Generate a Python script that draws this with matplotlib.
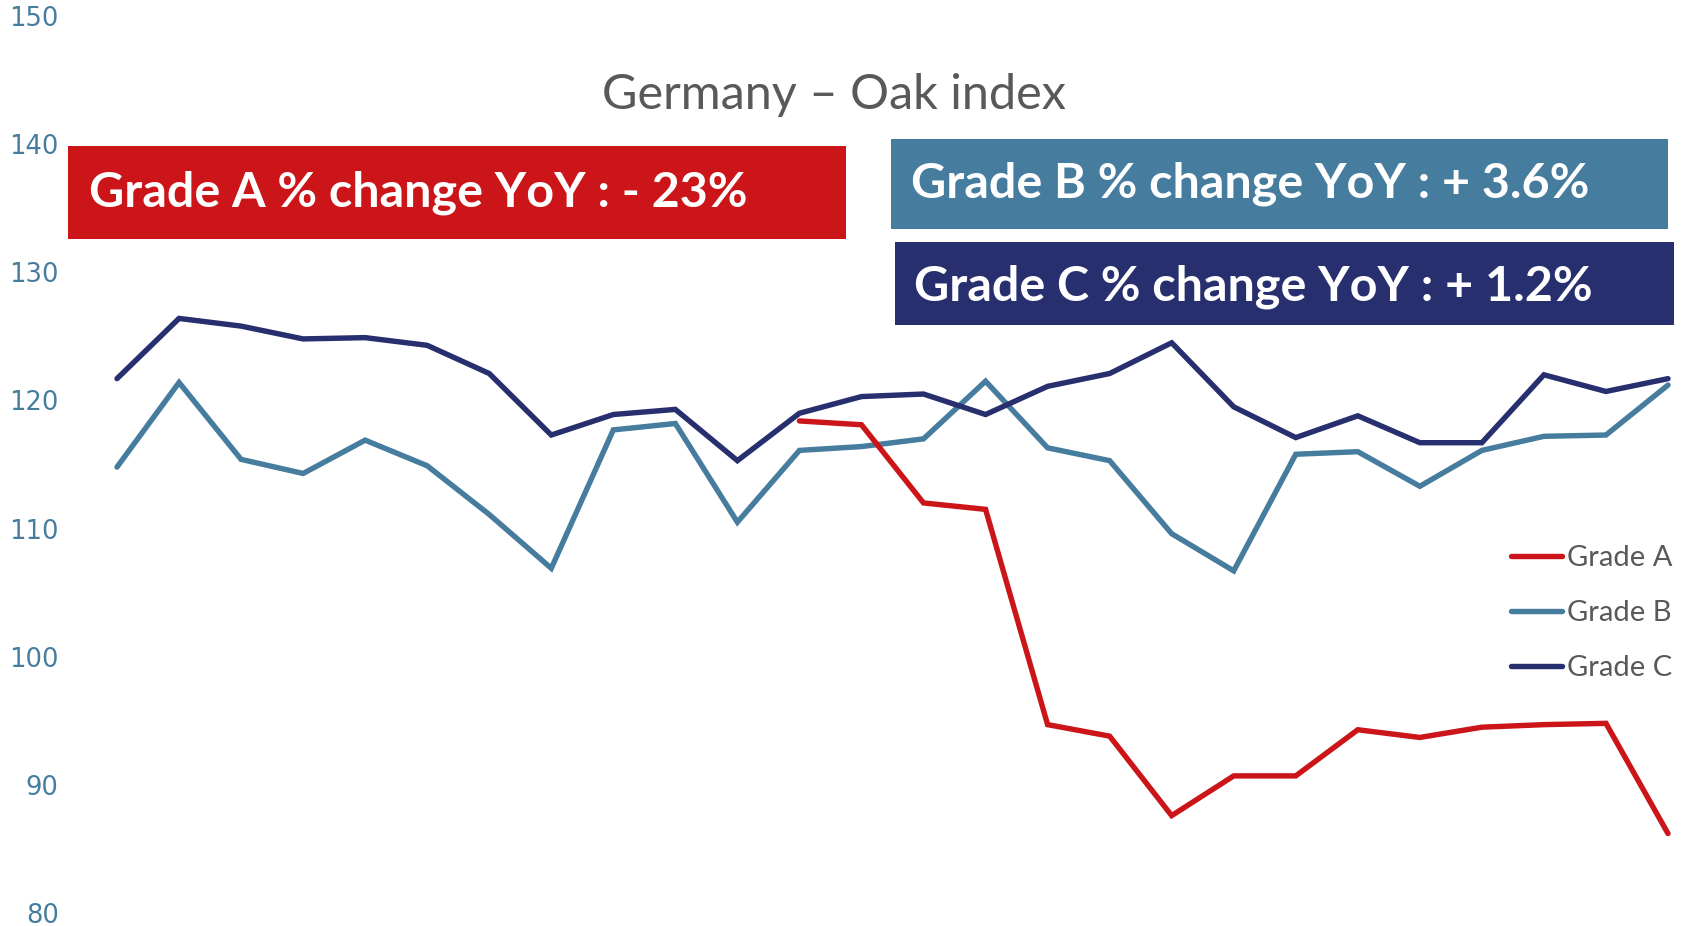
import matplotlib
matplotlib.use("Agg")
import matplotlib.pyplot as plt
from matplotlib.patches import Rectangle

# ---- data ----
periods = list(range(26))
grade_a = [None] * 11 + [118.4, 118.1, 112.0, 111.5, 94.7, 93.8, 87.6, 90.7, 90.7,
                         94.3, 93.7, 94.5, 94.7, 94.8, 86.2]
grade_b = [114.8, 121.4, 115.4, 114.3, 116.9, 114.9, 111.1, 106.9, 117.7, 118.2,
           110.5, 116.1, 116.4, 117.0, 121.5, 116.3, 115.3, 109.6, 106.7, 115.8,
           116.0, 113.3, 116.1, 117.2, 117.3, 121.2]
grade_c = [121.7, 126.4, 125.8, 124.8, 124.9, 124.3, 122.1, 117.3, 118.9, 119.3,
           115.3, 119.0, 120.3, 120.5, 118.9, 121.1, 122.1, 124.5, 119.5, 117.1,
           118.8, 116.7, 116.7, 122.0, 120.7, 121.7]
series_names = ["Grade A", "Grade B", "Grade C"]
y_ticks = [80, 90, 100, 110, 120, 130, 140, 150]
title = "Germany \u2013 Oak index"
box_texts = ["Grade A % change YoY : - 23%",
             "Grade B % change YoY : + 3.6%",
             "Grade C % change YoY : + 1.2%"]

# ---- style ----
col_a, col_b, col_c = "#CB1518", "#467C9E", "#282F6E"
W, H = 1701, 926
fig = plt.figure(figsize=(W / 100, H / 100), dpi=100)
fig.patch.set_facecolor("white")

def fx(px):
    return px / W

def fy(py):
    return 1 - py / H

ax_left, ax_right = 117, 1668
ax_top, ax_bot = 16, 913
ax = fig.add_axes([fx(ax_left), fy(ax_bot), fx(ax_right - ax_left), (ax_bot - ax_top) / H])
ax.set_xlim(0, 25)
ax.set_ylim(80, 150)
for s in ax.spines.values():
    s.set_visible(False)
ax.set_xticks([])
ax.set_yticks(y_ticks)
ax.tick_params(axis="y", length=0, pad=42, labelsize=18.5, labelcolor="#467C9E")
for lab in ax.get_yticklabels():
    lab.set_fontfamily("DejaVu Sans")

xa = [p for p, v in zip(periods, grade_a) if v is not None]
ya = [v for v in grade_a if v is not None]
lw = 3.9
ax.plot(periods, grade_b, color=col_b, lw=lw, solid_joinstyle="miter", solid_capstyle="round",
        label=series_names[1], clip_on=False, zorder=3)
ax.plot(periods, grade_c, color=col_c, lw=lw, solid_joinstyle="miter", solid_capstyle="round",
        label=series_names[2], clip_on=False, zorder=3)
ax.plot(xa, ya, color=col_a, lw=lw, solid_joinstyle="miter", solid_capstyle="round",
        label=series_names[0], clip_on=False, zorder=4)

# legend
h, l = ax.get_legend_handles_labels()
order = [2, 0, 1]
leg = ax.legend([h[i] for i in order], [l[i] for i in order], loc="upper left",
                bbox_to_anchor=(fx(1511), fy(545)), bbox_transform=fig.transFigure,
                frameon=False, handlelength=1.75, handletextpad=0.18,
                labelspacing=0.99, borderpad=0, borderaxespad=0,
                prop={"family": "Lato", "size": 21})
for t in leg.get_texts():
    t.set_color("#595959")

# title
fig.text(fx(834), fy(95), title, ha="center", va="center", fontsize=35,
         family="Lato", color="#595959")

# boxes
boxes = [((68, 146, 846, 239), col_a, (89, 193)),
         ((891, 139, 1668, 229), col_b, (911, 184)),
         ((895, 242, 1674, 325), col_c, (914, 287))]
for txt, ((x0, y0, x1, y1), c, (tx, ty)) in zip(box_texts, boxes):
    fig.add_artist(Rectangle((fx(x0), fy(y1)), fx(x1 - x0), (y1 - y0) / H,
                             transform=fig.transFigure, facecolor=c, edgecolor="none", zorder=5))
    fig.text(fx(tx), fy(ty), txt, ha="left", va="center", fontsize=34.9, fontweight="bold",
             family="Lato", color="white", zorder=6)

fig.savefig("out.png", dpi=100, facecolor="white")
